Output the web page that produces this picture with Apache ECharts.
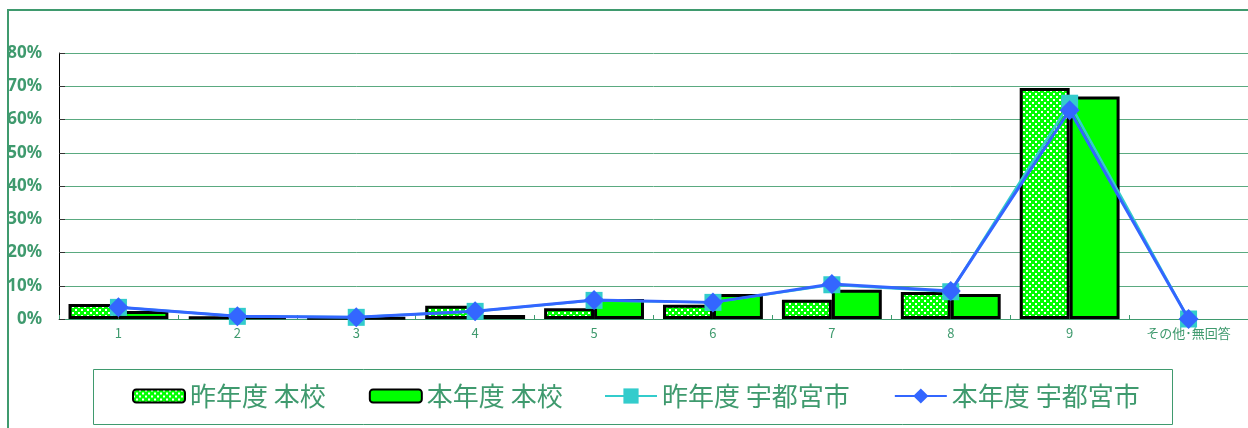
<!DOCTYPE html>
<html><head><meta charset="utf-8">
<script src="https://cdn.jsdelivr.net/npm/echarts@6/dist/echarts.min.js"></script>
<style>
html,body{margin:0;padding:0;background:#fff;}
#frame{position:absolute;left:7px;top:9px;width:1260px;height:440px;border:2px solid #3f9a6e;box-sizing:border-box;}
#c{position:absolute;left:0;top:0;width:1248px;height:428px;}
</style></head>
<body><div id="frame"></div><div id="c"></div>
<script>
const categories = ['1','2','3','4','5','6','7','8','9','その他･無回答'];
const seriesNames = ['昨年度 本校','本年度 本校','昨年度 宇都宮市','本年度 宇都宮市'];
const lastYearSchool = [4.5, 0.8, 0.5, 4.0, 3.2, 4.3, 5.8, 8.1, 69.5, null];
const thisYearSchool = [2.4, 0.8, 0.5, 1.2, 6.0, 7.5, 8.8, 7.5, 66.9, null];
const lastYearCity = [3.5, 0.8, 0.5, 2.3, 5.6, 5.0, 10.3, 8.2, 64.9, 0];
const thisYearCity = [3.5, 0.8, 0.5, 2.3, 5.7, 5.0, 10.5, 8.4, 62.8, 0];
const yTicks = [0, 10, 20, 30, 40, 50, 60, 70, 80];

const txt = '#3f9a6e';
const font = '"Noto Sans CJK JP", "Noto Sans", sans-serif';

// hatched pattern: green field with white dots on a diagonal lattice
const pc = document.createElement('canvas');
pc.width = 6; pc.height = 6;
const pctx = pc.getContext('2d');
pctx.fillStyle = '#00ff00'; pctx.fillRect(0,0,6,6);
pctx.fillStyle = '#ffffff';
pctx.fillRect(0,0,2,2);
pctx.fillRect(3,3,2,2);

const legendText = {color:txt, fontSize:26, fontFamily:font};
const chart = echarts.init(document.getElementById('c'), null, {renderer:'canvas'});
chart.setOption({
  animation:false,
  textStyle:{fontFamily:font},
  grid:{left:59, right:-1, top:53, bottom:109, containLabel:false},
  graphic:[{type:'rect', shape:{x:93.5,y:369.5,width:1079,height:55}, style:{fill:'none', stroke:txt, lineWidth:1}, z:-1}],
  legend:[{
    left:127, top:378, itemWidth:52, itemHeight:13, itemGap:43,
    textStyle:legendText, data:seriesNames.slice(0,2)
  },{
    left:599, top:378, itemWidth:52, itemHeight:19, itemGap:44,
    textStyle:legendText, data:seriesNames.slice(2)
  }],
  xAxis:{
    type:'category', data:categories, boundaryGap:true,
    axisLine:{lineStyle:{color:txt, width:1}},
    axisTick:{show:true, inside:true, length:4, lineStyle:{color:txt}},
    axisLabel:{color:txt, fontSize:13, margin:8, interval:0}
  },
  yAxis:{
    type:'value', min:yTicks[0], max:yTicks[yTicks.length-1], interval:10,
    axisLine:{show:true, lineStyle:{color:'#000', width:1}},
    axisTick:{show:true, inside:true, length:6, lineStyle:{color:'#333'}},
    axisLabel:{color:txt, fontSize:17, fontWeight:'bold', fontFamily:'"Noto Sans", sans-serif', margin:17, formatter:'{value}%'},
    splitLine:{lineStyle:{color:'#5aaa80', width:1}}
  },
  series:[
    {name:seriesNames[0], type:'bar', data:lastYearSchool, barGap:'0%', barCategoryGap:'16%',
     itemStyle:{color:{image:pc, repeat:'repeat'}, borderColor:'#000', borderWidth:3}},
    {name:seriesNames[1], type:'bar', data:thisYearSchool,
     itemStyle:{color:'#00ff00', borderColor:'#000', borderWidth:3}},
    {name:seriesNames[2], type:'line', data:lastYearCity, symbol:'rect', symbolSize:17,
     lineStyle:{color:'#33cccc', width:2.5}, itemStyle:{color:'#33cccc'}, z:3},
    {name:seriesNames[3], type:'line', data:thisYearCity, symbol:'diamond', symbolSize:20,
     lineStyle:{color:'#3366ff', width:3}, itemStyle:{color:'#3366ff'}, z:4}
  ]
});
</script></body></html>
